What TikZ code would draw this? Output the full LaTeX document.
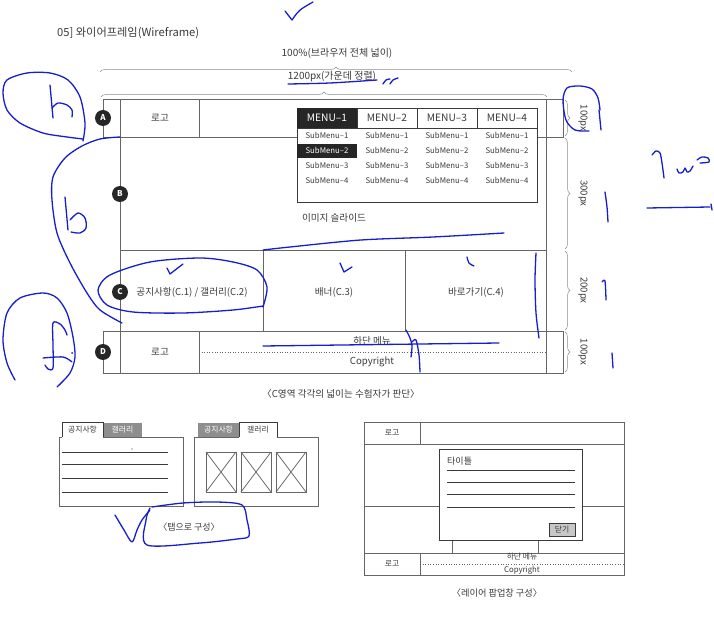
\documentclass[tikz,border=0pt]{standalone}
\usepackage{fontspec}
\setmainfont{Noto Sans CJK KR}
\usetikzlibrary{decorations.pathreplacing}
\definecolor{wiregray}{HTML}{666666}
\definecolor{ink}{HTML}{3A3A3A}
\definecolor{tabgray}{HTML}{8E8E8E}
\definecolor{marker}{RGB}{22,30,205}

\begin{document}
\begin{tikzpicture}[x=1pt,y=-1pt,
	wire/.style={draw=wiregray,line width=0.75pt},
	txt/.style={text=ink,inner sep=0pt,font=\fontsize{9.6}{10}\selectfont},
	small/.style={text=ink,inner sep=0pt,font=\fontsize{7.8}{8}\selectfont},
	badge/.style={circle,fill=black!85,text=white,inner sep=0pt,minimum size=16pt,font=\fontsize{8}{8}\selectfont\bfseries},
	gbrace/.style={draw=black!45,line width=0.5pt,decorate,decoration={brace,amplitude=5pt}},
	scribble/.style={draw=marker,line width=1.3pt,line cap=round,line join=round}]
	\useasboundingbox (0,0) rectangle (714,617);
	\node[txt,anchor=west,font=\fontsize{11.2}{12}\selectfont] (title) at (57,33) {05] 와이어프레임(Wireframe)};

	\draw[gbrace] (100,72) -- (572,72);
	\node[txt,font=\fontsize{10}{10}\selectfont] (fullw) at (337,53) {100\%(브라우저 전체 넓이)};
	\draw[gbrace] (101,97) -- (547,97);
	\node[txt,font=\fontsize{10}{10}\selectfont] (innerw) at (332,77) {1200px(가운데 정렬)};

	\draw[wire] (103,99) rectangle (563,137);
	\foreach \x in {120,199,546} \draw[wire] (\x,99) -- (\x,137);
	\draw[wire] (120,137) rectangle (546,250);
	\draw[wire] (120,250) rectangle (546,331);
	\draw[wire] (263,250) -- (263,331);
	\draw[wire] (405,250) -- (405,331);
	\draw[wire] (103,331) rectangle (563,373);
	\foreach \x in {120,199,546} \draw[wire] (\x,331) -- (\x,373);
	\draw[wiregray,dotted,line width=0.6pt] (199,352) -- (546,352);

	\draw[draw=ink,fill=white,line width=0.8pt] (297,108) rectangle (537,202);
	\fill[black!85] (297,108) rectangle (357,128);
	\fill[black!85] (297,144) rectangle (357,158);
	\draw[ink,line width=0.8pt] (297,128) -- (537,128);
	\foreach \x in {357,417,477} \draw[ink,line width=0.8pt] (\x,108) -- (\x,128);
	\foreach \i in {1,...,4} {
		\ifnum\i=1 \def\tcol{white}\else\def\tcol{ink}\fi
		\node[txt,text=\tcol,font=\fontsize{10.2}{10}\selectfont] (menu\i) at (267+60*\i,118) {MENU–\i};
		\foreach \j in {1,...,4} {
			\ifnum\i\j=12 \def\scol{white}\else\def\scol{ink}\fi
			\node[small,text=\scol] (sub\i\j) at (267+60*\i,120+15.2*\j) {SubMenu–\j};
		}
	}

	\node[txt] (logoA) at (160,118) {로고};
	\node[txt] (slide) at (334,218) {이미지 슬라이드};
	\node[txt] (notice) at (192,292) {공지사항(C.1) / 갤러리(C.2)};
	\node[txt] (banner) at (334,292) {배너(C.3)};
	\node[txt] (quick) at (476,292) {바로가기(C.4)};
	\node[txt] (logoD) at (160,352) {로고};
	\node[txt] (footmenu) at (372,341) {하단 메뉴};
	\node[txt] (copy) at (372,362) {Copyright};
	\node[txt] (noteC) at (341,394) {〈C영역 각각의 넓이는 수험자가 판단〉};

	\node[badge] (badgeA) at (103,118) {A};
	\node[badge] (badgeB) at (120,194) {B};
	\node[badge] (badgeC) at (120,292) {C};
	\node[badge] (badgeD) at (103,352) {D};

	\foreach \a/\b/\h in {99/137/100,137/250/300,250/331/200,331/373/100} {
		\draw[gbrace] (565,\a+1) -- (565,\b-1);
		\node[txt,rotate=-90] (height\a) at (583,{(\a+\b)/2}) {\h px};
	}

	\draw[wire] (59,437) rectangle (183,506);
	\fill[tabgray] (103,423) rectangle (142,437);
	\node[small,text=white] (galA) at (122.5,430) {갤러리};
	\fill[white] (62.4,423) rectangle (102.6,437.6);
	\draw[ink,line width=0.7pt] (62,437) -- (62,422) -- (103,422) -- (103,437);
	\node[small] (noticeA) at (82.5,430) {공지사항};
	\foreach \y in {452,464,478,492} \draw[ink,line width=0.8pt] (62,\y) -- (168,\y);
	\fill[ink] (132,449) circle (0.7);

	\draw[wire] (194,437) rectangle (318,506);
	\fill[tabgray] (198,423) rectangle (239,437);
	\node[small,text=white] (noticeB) at (218.5,430) {공지사항};
	\fill[white] (239.4,423) rectangle (276.6,437.6);
	\draw[ink,line width=0.7pt] (239,437) -- (239,422) -- (277,422) -- (277,437);
	\node[small] (galB) at (258,430) {갤러리};
	\foreach \x in {206,241,276} {
		\draw[wire] (\x,452) rectangle ++(30,40);
		\draw[wire] (\x,452) -- ++(30,40);
		\draw[wire] (\x+30,452) -- ++(-30,40);
	}
	\node[txt,font=\fontsize{9}{9}\selectfont] (tabnote) at (189,527) {〈탭으로 구성〉};

	\draw[wire] (364,422) rectangle (624,575);
	\draw[wire] (364,444) -- (624,444);
	\draw[wire] (420,422) -- (420,444);
	\draw[wire] (364,506) -- (624,506);
	\draw[wire] (364,553) -- (624,553);
	\draw[wire] (420,553) -- (420,575);
	\draw[wiregray,dotted,line width=0.6pt] (420,564) -- (624,564);
	\node[small] (plogoA) at (392,433) {로고};
	\node[small] (plogoD) at (392,564) {로고};
	\node[small] (pmenu) at (522,557) {하단 메뉴};
	\node[small] (pcopy) at (522,570) {Copyright};
	\draw[wire] (452,540) -- (452,553);
	\draw[wire] (538,540) -- (538,553);
	\draw[draw=ink,fill=white,line width=0.9pt] (439,449) rectangle (582,540);
	\node[txt,anchor=west,font=\fontsize{9}{9}\selectfont] (ptitle) at (447,461) {타이틀};
	\foreach \y in {470,482,494,507} \draw[ink,line width=0.8pt] (447,\y) -- (575,\y);
	\node[small,draw=ink,fill=black!22,line width=0.8pt,minimum width=26pt,minimum height=13pt] (pclose) at (562,529.5) {닫기};
	\node[txt,font=\fontsize{9.2}{9}\selectfont] (popnote) at (497,593) {〈레이어 팝업창 구성〉};

	\draw[scribble] (285,11) -- (292,20) .. controls (299,10) .. (313,2);
	\draw[scribble] plot[smooth] coordinates {(288,84) (330,83) (377,80)};
	\draw[scribble] plot[smooth] coordinates {(383,84) (386,80) (390,79)};
	\draw[scribble] plot[smooth] coordinates {(390,84) (393,80) (398,78)};
	\draw[scribble] plot[smooth] coordinates {(589,131) (575,130) (566,120) (563,100) (567,88) (580,86) (592,89) (598,98) (600,110)};
	\draw[scribble] (599,110) -- (601,130);
	\draw[scribble] plot[smooth] coordinates {(605,192) (607,207) (608,222)};
	\draw[scribble] plot[smooth] coordinates {(602,282) (605,281) (606,300)};
	\draw[scribble] (612,353) -- (613,368);
	\draw[scribble] plot[smooth] coordinates {(652,155) (656,151) (660,153) (662,163) (664,178)};
	\draw[scribble] plot[smooth] coordinates {(677,169) (679,173) (683,172) (685,168) (687,172) (690,171) (693,166)};
	\draw[scribble] plot[smooth] coordinates {(697,160) (702,157) (708,158) (709,162) (700,163)};
	\draw[scribble] (647,208) -- (710,207);
	\draw[scribble] (711,204) -- (712,210);

	\draw[scribble] plot[smooth] coordinates {(83,141) (85,123) (80,97) (68,80) (50,73) (27,73) (7,80) (3,93) (7,110) (20,123) (43,133) (67,137) (83,139)};
	\draw[scribble] (50,85) -- (53,118);
	\draw[scribble] plot[smooth] coordinates {(52,108) (58,103) (67,105) (72,110) (72,117)};
	\draw[scribble] plot[smooth] coordinates {(120,137) (100,139) (82,146) (65,158) (53,177) (52,200) (57,233) (70,263) (87,293) (100,310) (122,323)};
	\draw[scribble] (65,197) -- (68,230);
	\draw[scribble] plot[smooth] coordinates {(70,220) (78,213) (85,218) (86,228) (80,233) (71,232)};
	\draw[scribble] plot[smooth] coordinates {(15,380) (7,363) (3,340) (7,313) (20,298) (43,293) (57,298) (67,313) (73,337) (75,357) (70,373) (57,387)};
	\draw[scribble] plot[smooth] coordinates {(67,335) (65,330) (60,324) (53,323) (53,345) (53,368) (48,369) (45,365)};
	\draw[scribble] plot[smooth] coordinates {(43,358) (63,357) (72,362)};
	\fill[marker] (72,353) circle (1);

	\draw[scribble] plot[smooth] coordinates {(263,307) (267,287) (257,270) (233,262) (200,258) (150,262) (110,275) (98,290) (107,305) (133,312) (183,313) (233,310) (263,306)};
	\draw[scribble] (167,268) -- (170,274) -- (183,264);
	\draw[scribble] (340,263) -- (344,272) -- (352,267);
	\draw[scribble] plot[smooth] coordinates {(467,257) (469,263) (474,266)};
	\draw[scribble] plot[smooth] coordinates {(263,250) (290,247) (361,240) (433,237) (504,233)};
	\draw[scribble] plot[smooth] coordinates {(536,253) (535,280) (536,313) (539,338)};
	\draw[scribble] (263,346) -- (499,343);
	\draw[scribble] plot[smooth] coordinates {(406,330) (410,338) (412,346) (411,357)};
	\draw[scribble] plot[smooth] coordinates {(412,342) (416,340) (419,355) (420,372)};

	\draw[scribble] plot[smooth] coordinates {(115,515) (124,530) (132,542) (137,530) (142,520) (150,510)};
	\draw[scribble] plot[smooth] coordinates {(150,508) (146,520) (147,545) (200,543) (237,539) (249,536) (247,520) (242,505) (217,502) (183,503) (152,507)};
\end{tikzpicture}
\end{document}
